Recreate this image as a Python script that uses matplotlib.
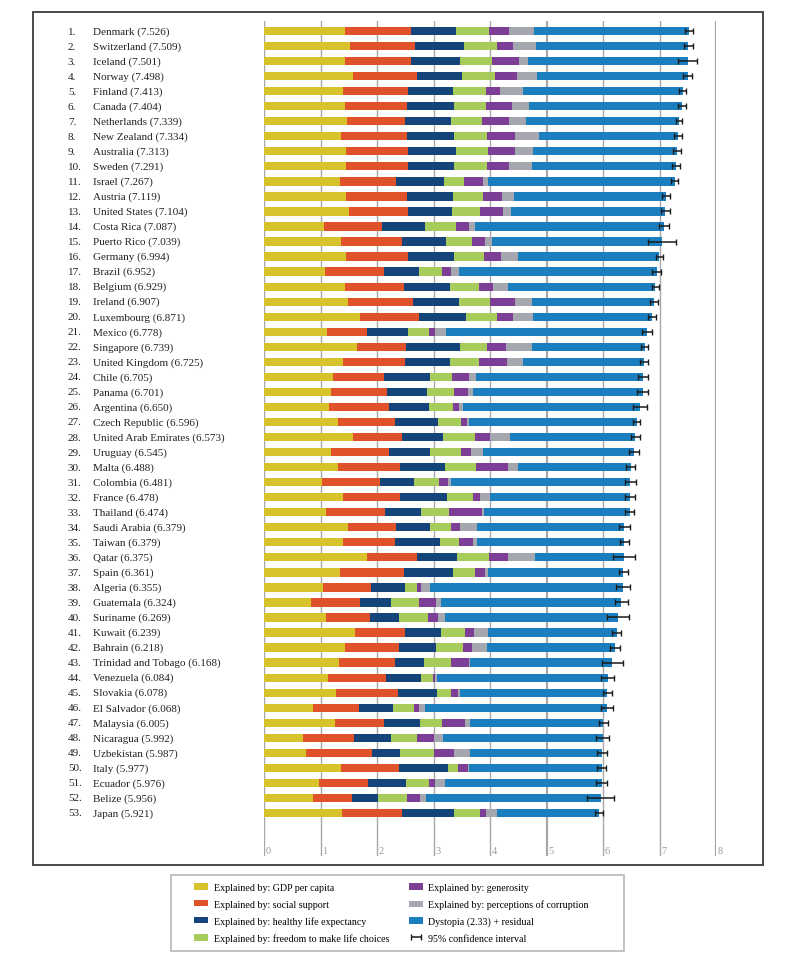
import numpy as np
import matplotlib.pyplot as plt
import matplotlib.transforms as mtransforms
from matplotlib.patches import Rectangle, Patch

plt.rcParams['font.family'] = ['Liberation Serif', 'DejaVu Serif']

countries = ["Denmark", "Switzerland", "Iceland", "Norway", "Finland", "Canada",
             "Netherlands", "New Zealand", "Australia", "Sweden", "Israel", "Austria",
             "United States", "Costa Rica", "Puerto Rico", "Germany", "Brazil", "Belgium",
             "Ireland", "Luxembourg", "Mexico", "Singapore", "United Kingdom", "Chile",
             "Panama", "Argentina", "Czech Republic", "United Arab Emirates", "Uruguay",
             "Malta", "Colombia", "France", "Thailand", "Saudi Arabia", "Taiwan", "Qatar",
             "Spain", "Algeria", "Guatemala", "Suriname", "Kuwait", "Bahrain",
             "Trinidad and Tobago", "Venezuela", "Slovakia", "El Salvador", "Malaysia",
             "Nicaragua", "Uzbekistan", "Italy", "Ecuador", "Belize", "Japan"]

score = [7.526, 7.509, 7.501, 7.498, 7.413, 7.404, 7.339, 7.334, 7.313, 7.291, 7.267, 7.119,
         7.104, 7.087, 7.039, 6.994, 6.952, 6.929, 6.907, 6.871, 6.778, 6.739, 6.725, 6.705,
         6.701, 6.650, 6.596, 6.573, 6.545, 6.488, 6.481, 6.478, 6.474, 6.379, 6.379, 6.375,
         6.361, 6.355, 6.324, 6.269, 6.239, 6.218, 6.168, 6.084, 6.078, 6.068, 6.005, 5.992,
         5.987, 5.977, 5.976, 5.956, 5.921]

ci_low = [7.460, 7.428, 7.333, 7.421, 7.351, 7.335, 7.284, 7.264, 7.241, 7.227, 7.199, 7.045,
          7.020, 6.999, 6.794, 6.930, 6.875, 6.861, 6.836, 6.804, 6.689, 6.674, 6.647, 6.615,
          6.601, 6.530, 6.531, 6.494, 6.456, 6.409, 6.384, 6.397, 6.396, 6.287, 6.305, 6.178,
          6.288, 6.227, 6.213, 6.073, 6.154, 6.128, 5.985, 5.973, 5.996, 5.967, 5.921, 5.877,
          5.896, 5.898, 5.880, 5.710, 5.850]

ci_high = [7.592, 7.590, 7.669, 7.575, 7.475, 7.473, 7.394, 7.404, 7.385, 7.355, 7.335, 7.193,
           7.188, 7.175, 7.284, 7.058, 7.029, 6.997, 6.978, 6.938, 6.867, 6.804, 6.803, 6.795,
           6.801, 6.770, 6.661, 6.652, 6.634, 6.567, 6.578, 6.559, 6.552, 6.471, 6.453, 6.572,
           6.434, 6.483, 6.435, 6.465, 6.324, 6.308, 6.351, 6.195, 6.160, 6.169, 6.089, 6.107,
           6.078, 6.056, 6.072, 6.202, 5.992]

gdp = [1.442, 1.527, 1.427, 1.577, 1.406, 1.440, 1.465, 1.361, 1.444, 1.452, 1.338, 1.450,
       1.508, 1.069, 1.359, 1.448, 1.088, 1.425, 1.483, 1.698, 1.115, 1.646, 1.403, 1.217,
       1.183, 1.151, 1.309, 1.574, 1.182, 1.308, 1.030, 1.395, 1.089, 1.490, 1.397, 1.824,
       1.343, 1.053, 0.835, 1.097, 1.617, 1.440, 1.326, 1.134, 1.280, 0.874, 1.251, 0.694,
       0.736, 1.355, 0.973, 0.876, 1.380]

social = [1.164, 1.145, 1.183, 1.127, 1.135, 1.096, 1.029, 1.173, 1.105, 1.088, 0.995, 1.084,
          1.048, 1.022, 1.081, 1.098, 1.039, 1.052, 1.162, 1.040, 0.715, 0.868, 1.087, 0.906,
          0.989, 1.066, 1.008, 0.871, 1.031, 1.099, 1.022, 1.005, 1.045, 0.848, 0.926, 0.880,
          1.129, 0.833, 0.871, 0.779, 0.878, 0.944, 0.986, 1.033, 1.083, 0.810, 0.880, 0.895,
          1.168, 1.042, 0.860, 0.687, 1.061]

health = [0.795, 0.863, 0.867, 0.796, 0.811, 0.828, 0.812, 0.831, 0.851, 0.831, 0.849, 0.806,
          0.779, 0.761, 0.778, 0.815, 0.614, 0.820, 0.815, 0.845, 0.711, 0.947, 0.810, 0.819,
          0.708, 0.697, 0.764, 0.730, 0.722, 0.803, 0.597, 0.838, 0.649, 0.593, 0.796, 0.717,
          0.879, 0.618, 0.540, 0.509, 0.636, 0.657, 0.520, 0.619, 0.704, 0.596, 0.624, 0.652,
          0.502, 0.851, 0.686, 0.456, 0.915]

freedom = [0.579, 0.586, 0.566, 0.596, 0.571, 0.574, 0.552, 0.581, 0.568, 0.582, 0.364, 0.544,
           0.482, 0.552, 0.468, 0.535, 0.404, 0.514, 0.540, 0.549, 0.377, 0.488, 0.500, 0.378,
           0.489, 0.423, 0.414, 0.562, 0.544, 0.550, 0.447, 0.466, 0.496, 0.379, 0.324, 0.567,
           0.375, 0.210, 0.504, 0.522, 0.432, 0.474, 0.485, 0.198, 0.234, 0.373, 0.390, 0.466,
           0.608, 0.188, 0.403, 0.512, 0.468]

generosity = [0.362, 0.281, 0.477, 0.379, 0.255, 0.448, 0.474, 0.494, 0.474, 0.383, 0.323, 0.329,
              0.411, 0.226, 0.222, 0.305, 0.158, 0.242, 0.450, 0.276, 0.117, 0.327, 0.502, 0.316,
              0.242, 0.110, 0.099, 0.266, 0.181, 0.562, 0.156, 0.122, 0.587, 0.155, 0.255, 0.324,
              0.177, 0.070, 0.288, 0.167, 0.160, 0.171, 0.319, 0.042, 0.138, 0.089, 0.415, 0.298,
              0.343, 0.167, 0.101, 0.237, 0.102]

corruption = [0.445, 0.412, 0.150, 0.358, 0.410, 0.313, 0.299, 0.419, 0.323, 0.409, 0.087, 0.213,
              0.149, 0.105, 0.123, 0.286, 0.142, 0.262, 0.298, 0.353, 0.184, 0.470, 0.274, 0.115,
              0.084, 0.073, 0.040, 0.356, 0.214, 0.176, 0.054, 0.178, 0.028, 0.300, 0.066, 0.480,
              0.061, 0.162, 0.087, 0.127, 0.237, 0.258, 0.012, 0.043, 0.029, 0.106, 0.091, 0.163,
              0.283, 0.026, 0.180, 0.108, 0.190]

dystopia = [2.739, 2.695, 2.831, 2.665, 2.826, 2.705, 2.707, 2.476, 2.547, 2.547, 3.310, 2.693,
            2.728, 3.352, 3.009, 2.509, 3.507, 2.614, 2.160, 2.110, 3.559, 1.994, 2.150, 2.955,
            3.006, 3.130, 2.962, 2.215, 2.671, 1.990, 3.175, 2.474, 2.580, 2.615, 2.615, 1.582,
            2.397, 3.409, 3.199, 3.069, 2.281, 2.274, 2.520, 3.015, 2.611, 3.221, 2.354, 2.824,
            2.346, 2.349, 2.774, 3.080, 1.806]

components = [gdp, social, health, freedom, generosity, corruption, dystopia]
comp_labels = ["Explained by: GDP per capita", "Explained by: social support",
               "Explained by: healthy life expectancy",
               "Explained by: freedom to make life choices", "Explained by: generosity",
               "Explained by: perceptions of corruption", "Dystopia (2.33) + residual"]
colors = ['#d8c22c', '#e0522a', '#14447a', '#a8cc5c', '#7d3f96', '#a4a8ae', '#1b7fbf']

fig = plt.figure(figsize=(8, 9.62), dpi=100)
ax = fig.add_axes([264 / 800, 1 - 857 / 962, 452 / 800, 835 / 962])

y = np.arange(len(countries))
left = np.zeros(len(countries))
for vals, col in zip(components, colors):
    ax.barh(y, vals, left=left, height=0.55, color=col, edgecolor='none', zorder=2)
    left += np.array(vals)

sc = np.array(score)
xerr = [sc - np.array(ci_low), np.array(ci_high) - sc]
eb = ax.errorbar(sc, y, xerr=xerr, fmt='none', ecolor='#1a1a1a', elinewidth=1.1,
                 capsize=2.2, capthick=1.0, zorder=3)

ax.set_xlim(0, 8)
ax.set_ylim(54.86, -0.665)
for v in range(9):
    lw = 1.6 if v in (5, 8) else 1.0
    ax.axvline(v, color='#a8a8a8', linewidth=lw, zorder=1)
    ax.text(v + 0.03, 54.5, str(v), color='#9a9a9a', fontsize=7.5, va='center', ha='left')
for s in ax.spines.values():
    s.set_visible(False)
ax.set_xticks([])
ax.set_yticks([])

trans = mtransforms.blended_transform_factory(fig.transFigure, ax.transData)
for i, (c, s) in enumerate(zip(countries, score)):
    ax.text(68 / 800, i, "{}.".format(i + 1), transform=trans, fontsize=8,
            va='center', ha='left', color='#222222')
    ax.text(93 / 800, i, "{} ({:.3f})".format(c, s), transform=trans, fontsize=8,
            va='center', ha='left', color='#222222')

# outer frame
fig.add_artist(Rectangle((33 / 800, 1 - 866 / 962), 730 / 800, 853 / 962,
                         transform=fig.transFigure, fill=False, edgecolor='#4a4a4a',
                         linewidth=1.4))
# legend box
fig.add_artist(Rectangle((171 / 800, 1 - 952 / 962), 453 / 800, 76 / 962,
                         transform=fig.transFigure, fill=False, edgecolor='#b8b8b8',
                         linewidth=1.2))

handles = [Patch(facecolor=c, edgecolor='none') for c in colors] + [eb]
labels = comp_labels + ["95% confidence interval"]
fig.legend(handles, labels, ncol=2, loc='upper left',
           bbox_to_anchor=(194 / 800, 1 - 884 / 962), frameon=False, fontsize=7.2,
           borderaxespad=0, borderpad=0, handlelength=1.4, handleheight=0.6,
           handletextpad=0.6, columnspacing=1.9, labelspacing=0.75)

plt.savefig("out.png", dpi=100)
